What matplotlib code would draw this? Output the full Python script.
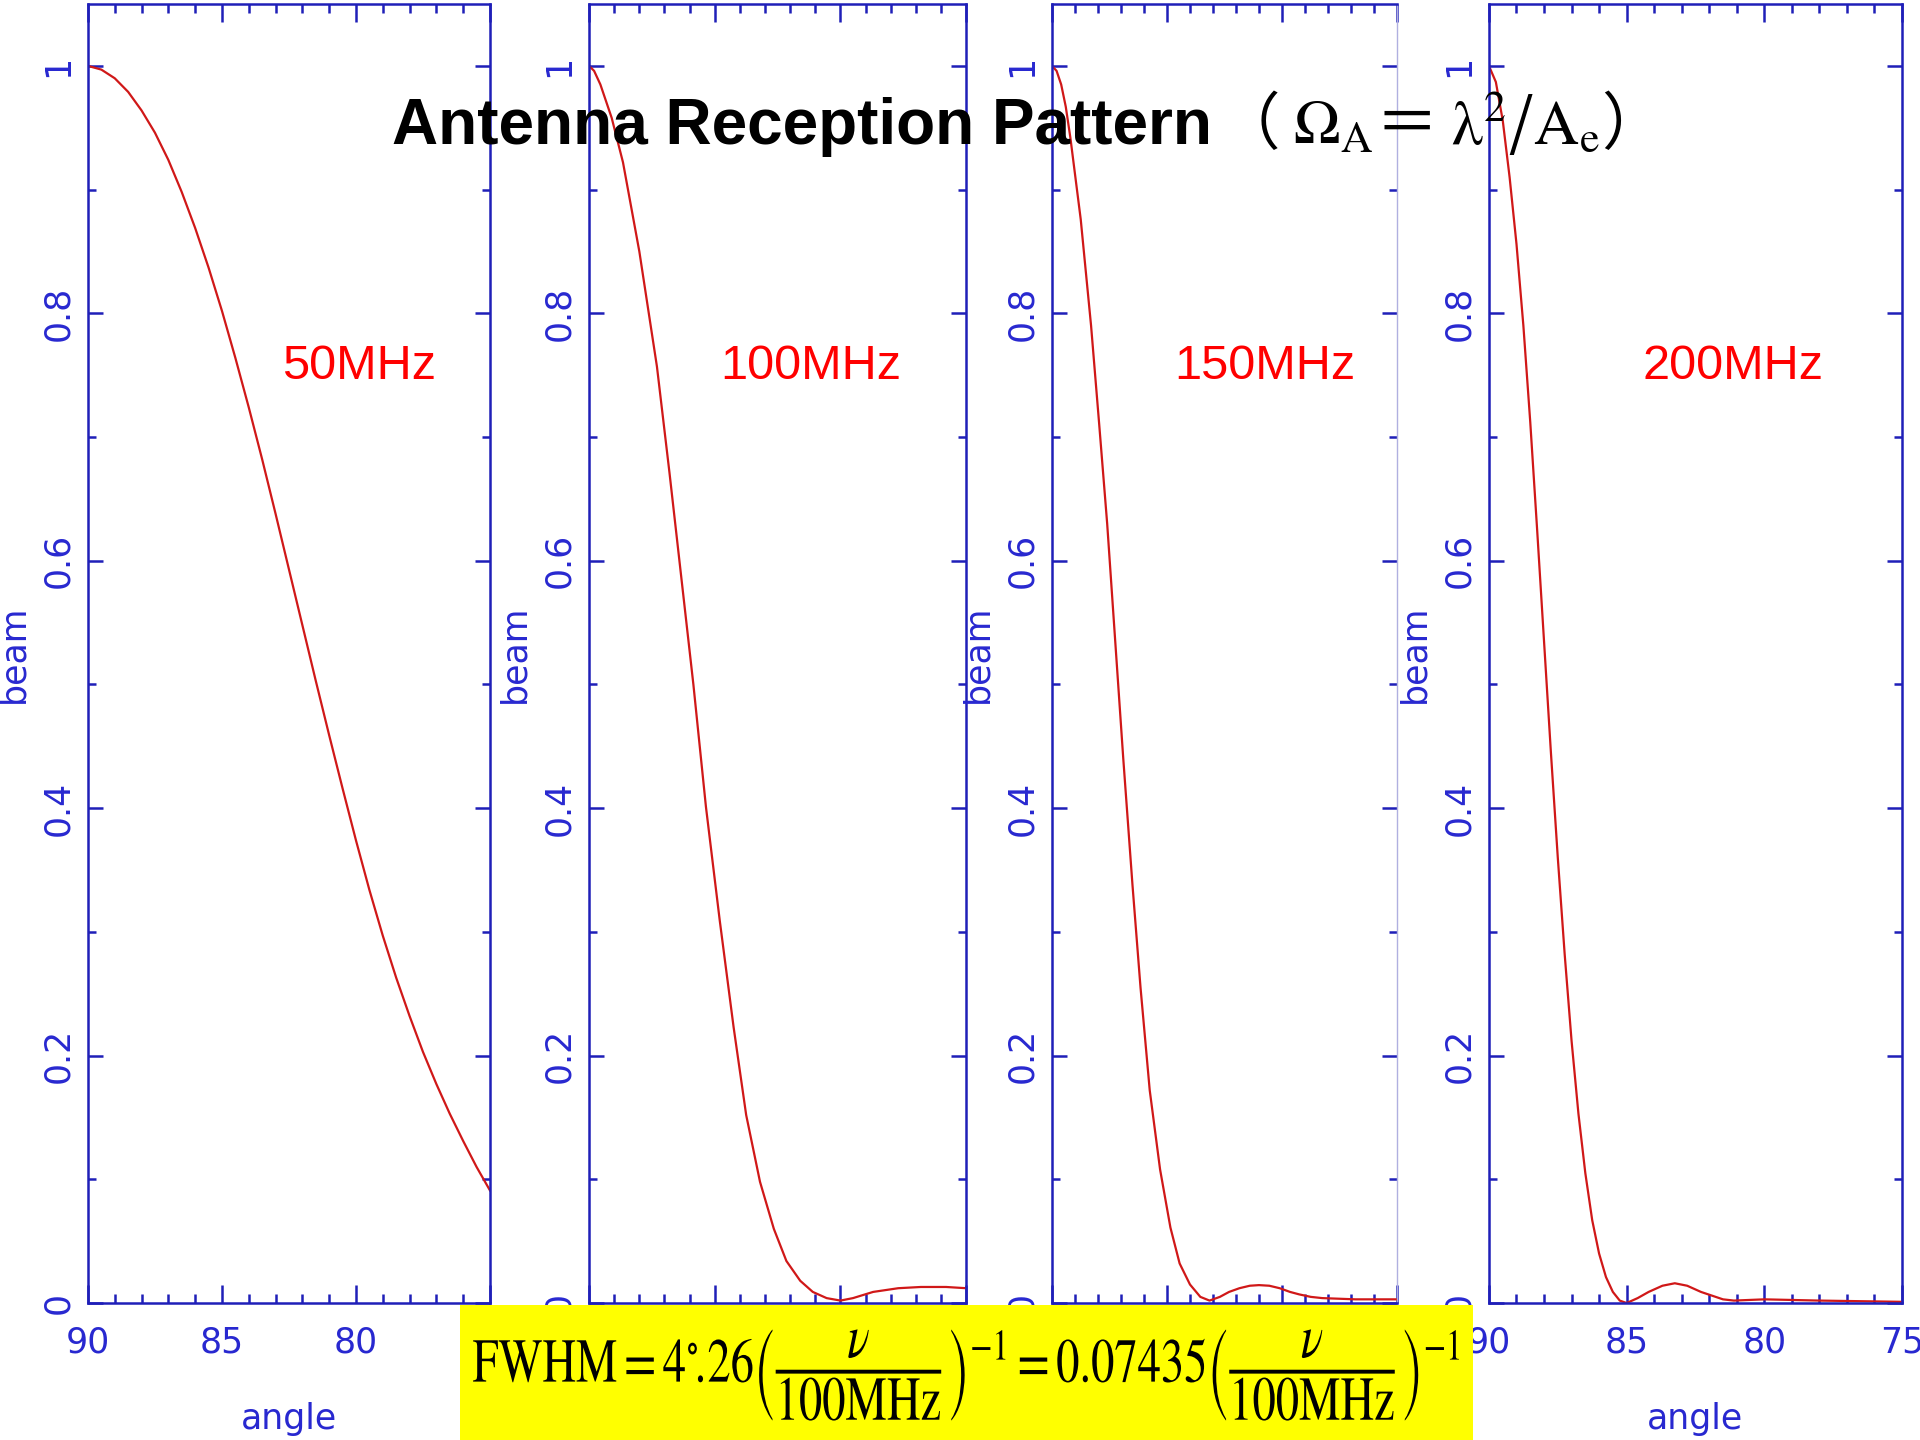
import numpy as np
import matplotlib.pyplot as plt
from matplotlib.patches import Rectangle, PathPatch
from matplotlib.ticker import FixedLocator, MultipleLocator
from matplotlib.textpath import TextPath
from matplotlib.font_manager import FontProperties
from matplotlib.transforms import Affine2D, IdentityTransform

plt.rcParams['mathtext.fontset'] = 'stix'

# beam patterns (angle in degrees, normalised beam)
freq_labels = ["50MHz", "100MHz", "150MHz", "200MHz"]

angle_50 = [90, 89.5, 89, 88.5, 88, 87.5, 87, 86.5, 86, 85.5, 85, 84.5, 84, 83.5, 83, 82.5,
            82, 81.5, 81, 80.5, 80, 79.5, 79, 78.5, 78, 77.5, 77, 76.5, 76, 75.5, 75]
beam_50 = [1.0, 0.997, 0.990, 0.979, 0.964, 0.946, 0.924, 0.898, 0.869, 0.837, 0.802, 0.764,
           0.724, 0.682, 0.638, 0.593, 0.548, 0.503, 0.459, 0.416, 0.374, 0.334, 0.297, 0.263,
           0.232, 0.203, 0.177, 0.153, 0.131, 0.110, 0.091]

angle_100 = [90, 89.8, 89.55, 89.1, 88.65, 88.0, 87.3, 86.8, 86.4, 85.85, 85.35, 84.8, 84.25,
             83.75, 83.2, 82.65, 82.15, 81.6, 81.1, 80.55, 80.0, 79.5, 78.7, 77.7, 76.8, 75.8, 75.0]
beam_100 = [1.0, 0.996, 0.985, 0.958, 0.922, 0.85, 0.757, 0.671, 0.599, 0.5, 0.401, 0.309, 0.223,
            0.152, 0.098, 0.060, 0.034, 0.018, 0.009, 0.004, 0.002, 0.004, 0.009, 0.012, 0.013,
            0.013, 0.012]

angle_150 = [90, 89.8, 89.6, 89.4, 89.2, 88.75, 88.3, 87.95, 87.6, 87.25, 86.9, 86.5, 86.15,
             85.75, 85.3, 84.85, 84.45, 84.0, 83.55, 83.15, 82.7, 82.3, 81.85, 81.4, 81.0, 80.55,
             80.1, 79.65, 79.25, 78.75, 78.25, 76.8, 75.0]
beam_150 = [1.0, 0.996, 0.985, 0.967, 0.942, 0.876, 0.79, 0.711, 0.630, 0.535, 0.440, 0.338,
            0.255, 0.172, 0.108, 0.061, 0.032, 0.015, 0.005, 0.002, 0.005, 0.009, 0.012, 0.014,
            0.0145, 0.014, 0.012, 0.009, 0.007, 0.005, 0.004, 0.003, 0.003]

angle_200 = [90, 89.75, 89.5, 89.25, 89.0, 88.75, 88.5, 88.25, 88.0, 87.75, 87.5, 87.25, 87.0,
             86.75, 86.5, 86.25, 86.0, 85.75, 85.5, 85.25, 85.0, 84.6, 84.2, 83.7, 83.25, 82.8,
             82.3, 81.9, 81.5, 81.1, 80.0, 78.0, 75.0]
beam_200 = [1.0, 0.987, 0.956, 0.910, 0.856, 0.790, 0.712, 0.625, 0.535, 0.445, 0.360, 0.282,
            0.212, 0.153, 0.105, 0.067, 0.040, 0.021, 0.009, 0.002, 0.0, 0.004, 0.009, 0.014,
            0.016, 0.014, 0.009, 0.006, 0.003, 0.002, 0.003, 0.002, 0.001]

angles = [angle_50, angle_100, angle_150, angle_200]
beams = [beam_50, beam_100, beam_150, beam_200]

x_ticks = [90, 85, 80, 75]
y_ticks = [0, 0.2, 0.4, 0.6, 0.8, 1.0]
y_tick_labels = ["0", "0.2", "0.4", "0.6", "0.8", "1"]

blue = "#1f1fb8"
text_blue = "#2828d0"
red = "#d01818"

fig = plt.figure(figsize=(19.2, 14.4), dpi=100)

# the four panels were squeezed to different widths on the slide
panel_x = [(0.0458, 0.2094), (0.3068, 0.1964), (0.5479, 0.1797), (0.7755, 0.2151)]
bottom, height = 0.0951, 0.9021
label_x = [0.674, 0.589, 0.617, 0.591]

for i in range(4):
    left, width = panel_x[i]
    ax = fig.add_axes([left, bottom, width, height])
    ax.plot(angles[i], beams[i], color=red, lw=1.6)
    ax.set_xlim(90, 75)
    ax.set_ylim(0, 1.05)
    ax.xaxis.set_major_locator(FixedLocator(x_ticks))
    ax.xaxis.set_minor_locator(MultipleLocator(1))
    ax.yaxis.set_major_locator(FixedLocator(y_ticks))
    ax.set_yticklabels(y_tick_labels)
    ax.yaxis.set_minor_locator(MultipleLocator(0.1))
    ax.tick_params(which='both', direction='in', top=True, right=True,
                   color=blue, width=1.8, labelcolor=text_blue, labelsize=25)
    ax.tick_params(axis='x', which='major', length=13, pad=16)
    ax.tick_params(axis='x', which='minor', length=6.5)
    ax.tick_params(axis='y', which='major', length=10.5, pad=9, labelrotation=90)
    ax.tick_params(axis='y', which='minor', length=5.5)
    plt.setp(ax.get_yticklabels(), va='center')
    for s in ax.spines.values():
        s.set_color(blue)
        s.set_linewidth(1.8)
    if i == 2:
        ax.spines['right'].set_color('#b0b0e0')
        ax.spines['right'].set_linewidth(1.0)
    ax.set_xlabel('angle', color=text_blue, fontsize=25, labelpad=31)
    ax.set_ylabel('beam', color=text_blue, fontsize=25, labelpad=8)
    ax.text(label_x[i], 0.7206, freq_labels[i], transform=ax.transAxes, color='red',
            fontsize=35, family='Liberation Sans', ha='center', va='center')

# title laid over the panels
fig.text(0.204, 0.8997, "Antenna Reception Pattern", fontsize=46, fontweight='bold',
         family='Liberation Sans', va='baseline', zorder=20)
fig.text(0.634, 0.8997, r"（ $\mathrm{\Omega_{A}}$＝ $\mathrm{λ}^{2}$/$\mathrm{A_{e}}$）",
         fontsize=45, family=['Noto Sans CJK SC', 'DejaVu Sans'], va='baseline', zorder=20)

# yellow formula box at the bottom
fig.add_artist(Rectangle((0.2396, 0.0), 0.5276, 0.0938, transform=fig.transFigure,
                         facecolor='#ffff00', edgecolor='none', zorder=10))

# the formula on the slide is stretched, so draw it as a scaled text path
fwhm = (r"$\mathrm{FWHM}=4^{\circ}\!.\!26\left(\dfrac{\nu}{100\mathrm{MHz}}\right)^{-1}"
        r"=0.07435\left(\dfrac{\nu}{100\mathrm{MHz}}\right)^{-1}$")
tp = TextPath((0, 0), fwhm, size=48, prop=FontProperties(math_fontfamily='stix'))
ext = tp.get_extents()
tr = (Affine2D().translate(-(ext.x0 + ext.x1) / 2, -(ext.y0 + ext.y1) / 2)
      .scale(0.97, 1.3).translate(966, 1440 - 1375))
fig.add_artist(PathPatch(tr.transform_path(tp), facecolor='black', edgecolor='none',
                         transform=IdentityTransform(), zorder=11))

fig.savefig("out.png", dpi=100)
